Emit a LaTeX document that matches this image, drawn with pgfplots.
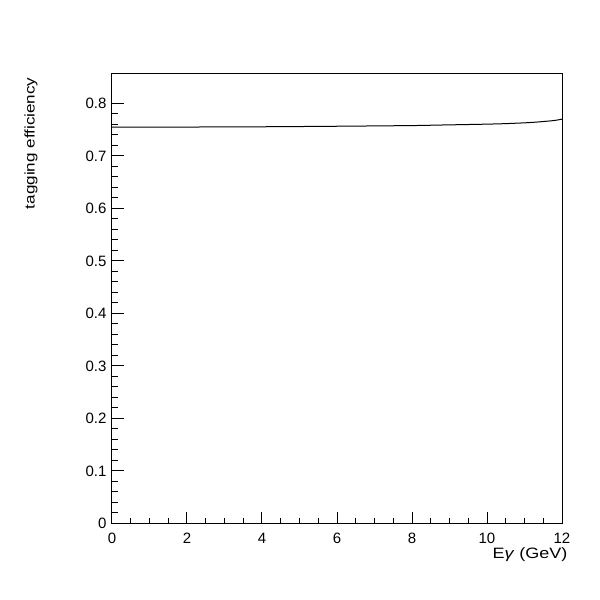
\documentclass[border=0pt]{standalone}
\usepackage{fontspec}
\setmainfont{Liberation Sans}
\usepackage{graphicx}
\usepackage{pgfplots}
\pgfplotsset{compat=1.18}
\begin{document}
\begin{tikzpicture}
\path[use as bounding box] (-112pt,-76.5pt) rectangle (488pt,523.5pt);
\begin{axis}[
  at={(0pt,0pt)}, anchor=south west,
  scale only axis, width=450pt, height=449.5pt,
  xmin=0, xmax=12, ymin=0, ymax=0.856,
  xtick={0,2,...,12}, ytick={0,0.1,...,0.8},
  minor x tick num=3, minor y tick num=4,
  tick align=inside,
  major tick length=12pt, minor tick length=6pt,
  xtick pos=bottom, ytick pos=left,
  axis line style={line width=1pt},
  every tick/.style={black, line width=1pt},
  tick label style={font=\fontsize{15}{17}\selectfont},
  /pgf/number format/assume math mode=true,
  yticklabel style={/pgf/number format/fixed, /pgf/number format/precision=1, xshift=-2pt},
  xticklabel style={yshift=-6pt},
  xlabel={\scalebox{1.2}[1]{E\textit{γ} (GeV)}},
  xlabel style={font=\fontsize{15}{17}\selectfont, at={(axis description cs:1,0)}, anchor=north east, yshift=-21pt, xshift=9pt},
  ylabel={\scalebox{1.22}[1]{tagging efficiency}},
  ylabel style={font=\fontsize{14}{16}\selectfont, at={(axis description cs:0,1)}, anchor=east, yshift=81pt},
]
\addplot[black, line width=1pt, smooth] coordinates {
(0,0.7547) (2,0.7550) (4,0.7555) (6,0.7565) (8,0.7578) (8.75,0.7588) (9.5,0.7598) (10,0.7605) (10.5,0.7615) (11,0.7630) (11.3,0.7643) (11.55,0.7658) (11.8,0.7675) (12,0.7700)
};
\end{axis}
\end{tikzpicture}
\end{document}
